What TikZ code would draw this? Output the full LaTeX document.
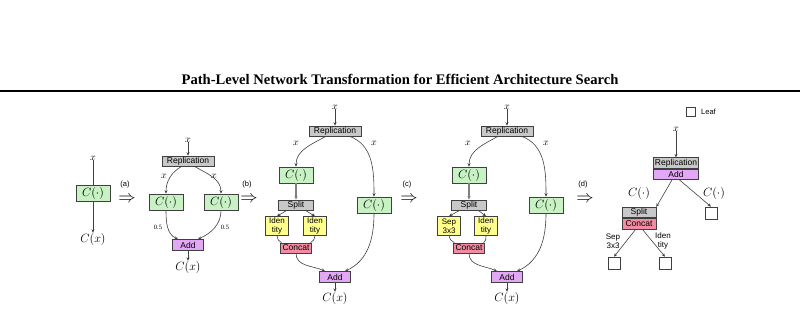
\documentclass[tikz,border=0pt]{standalone}
\usepackage{amsmath, amssymb}
\usepackage{fontspec}
\setmainfont{Liberation Serif}
\setsansfont{Liberation Sans}
\usepackage{tikz}
\usepackage{xcolor}
\usetikzlibrary{arrows.meta}

\definecolor{opgreen}{RGB}{200,242,196}
\definecolor{opgray}{RGB}{200,200,200}
\definecolor{opyellow}{RGB}{255,255,140}
\definecolor{oppink}{RGB}{242,140,162}
\definecolor{opviolet}{RGB}{226,168,246}

\tikzset{
  opbox/.style={draw=black!75, line width=0.6pt, inner sep=0pt, font=\sffamily\fontsize{8.5}{9}\selectfont},
  repbox/.style={opbox, fill=opgray, minimum width=52pt, minimum height=10pt},
  splitbox/.style={opbox, fill=opgray, minimum width=35pt, minimum height=10pt},
  cellbox/.style={opbox, fill=opgreen, minimum width=34pt, minimum height=16pt, font=\fontsize{12}{12}\selectfont},
  idbox/.style={opbox, fill=opyellow, minimum width=23pt, minimum height=19pt, align=center, font=\sffamily\fontsize{8}{8.5}\selectfont},
  catbox/.style={opbox, fill=oppink, minimum width=31pt, minimum height=10pt},
  addbox/.style={opbox, fill=opviolet, minimum width=31pt, minimum height=11pt},
  leafbox/.style={draw=black!75, line width=0.6pt, fill=white, minimum size=12pt, inner sep=0pt},
  lbl/.style={inner sep=0pt, font=\fontsize{10}{10}\selectfont},
  outlbl/.style={inner sep=0pt, font=\fontsize{11.5}{12}\selectfont},
  tag/.style={inner sep=0pt, font=\sffamily\fontsize{7.5}{8}\selectfont},
  txt/.style={inner sep=0pt, align=center, font=\sffamily\fontsize{8}{8.5}\selectfont},
  impl/.style={inner sep=0pt, text height=5pt, text depth=0pt, font=\fontsize{19}{19}\selectfont},
  edge/.style={draw=black!75, line width=0.6pt, -{Stealth[length=3.5pt,width=3pt]}},
  plain/.style={draw=black!75, line width=0.6pt},
  thickedge/.style={draw=black!50, line width=1.3pt, -{Stealth[length=3.5pt,width=3pt]}}
}

\begin{document}
\begin{tikzpicture}[x=1pt, y=-1pt]
  \useasboundingbox (0,0) rectangle (800,309);

  \node (title) at (400,79) {\fontsize{14.6}{15}\selectfont\bfseries Path-Level Network Transformation for Efficient Architecture Search};
  \draw[line width=1.6pt] (0,91) -- (800,91);

  \node[lbl] (x1) at (93,158) {$x$};
  \node[cellbox] (c1) at (93,193) {$C(\cdot)$};
  \node[outlbl] (cx1) at (93,239) {$C(x)$};
  \draw[plain] (x1) -- (c1);
  \draw[edge] (c1) -- (cx1);

  \node[tag] (ta) at (125,185) {(a)};
  \node[impl] (ia) at (127,200) {$\Rightarrow$};

  \node[lbl] (x2) at (188,140) {$x$};
  \node[repbox] (rep2) at (188,161) {Replication};
  \node[lbl] (x2a) at (164,176) {$x$};
  \node[lbl] (x2b) at (214,176) {$x$};
  \node[cellbox] (c2a) at (166,202) {$C(\cdot)$};
  \node[cellbox] (c2b) at (221,202) {$C(\cdot)$};
  \node[inner sep=0pt, font=\fontsize{6.5}{7}\selectfont] (w2a) at (158,227) {0.5};
  \node[inner sep=0pt, font=\fontsize{6.5}{7}\selectfont] (w2b) at (225,227) {0.5};
  \node[addbox] (add2) at (188,245) {Add};
  \node[outlbl] (cx2) at (188,267) {$C(x)$};
  \draw[edge] (x2) -- (rep2);
  \draw[edge] (rep2.-140) to[out=-150,in=90] (c2a.north);
  \draw[edge] (rep2.-40) to[out=-30,in=90] (c2b.north);
  \draw[edge] (c2a.south) to[out=-90,in=155] (add2.150);
  \draw[edge] (c2b.south) to[out=-90,in=25] (add2.30);
  \draw[edge] (add2) -- (cx2);

  \node[tag] (tb) at (247,185) {(b)};
  \node[impl] (ib) at (249,200) {$\Rightarrow$};

  \node[lbl] (x3) at (335,107) {$x$};
  \node[repbox] (rep3) at (335,131) {Replication};
  \node[lbl] (x3a) at (296,143) {$x$};
  \node[lbl] (x3b) at (374,143) {$x$};
  \node[cellbox] (c3a) at (296,175) {$C(\cdot)$};
  \node[cellbox] (c3b) at (374,205) {$C(\cdot)$};
  \node[splitbox] (sp3) at (296,205) {Split};
  \node[idbox] (id3a) at (277,226) {Iden\\tity};
  \node[idbox] (id3b) at (315,226) {Iden\\tity};
  \node[catbox] (cat3) at (296,248) {Concat};
  \node[addbox] (add3) at (335,277) {Add};
  \node[outlbl] (cx3) at (335,298) {$C(x)$};
  \draw[edge] (x3) -- (rep3);
  \draw[edge] (rep3.-150) to[out=-150,in=90] (c3a.north);
  \draw[edge] (rep3.-20) to[out=-20,in=90] (c3b.north);
  \draw[thickedge] (c3a) -- (sp3);
  \draw[edge] (sp3.-150) -- (id3a.north);
  \draw[edge] (sp3.-30) -- (id3b.north);
  \draw[plain] (id3a.south) to[out=-90,in=150] (cat3.160);
  \draw[plain] (id3b.south) to[out=-90,in=30] (cat3.20);
  \draw[edge] (cat3.south) to[out=-90,in=155] (add3.150);
  \draw[edge] (c3b.south) to[out=-90,in=25] (add3.30);
  \draw[edge] (add3) -- (cx3);

  \node[tag] (tc) at (407,185) {(c)};
  \node[impl] (ic) at (409,200) {$\Rightarrow$};

  \node[lbl] (x4) at (507,107) {$x$};
  \node[repbox] (rep4) at (507,131) {Replication};
  \node[lbl] (x4a) at (468,143) {$x$};
  \node[lbl] (x4b) at (546,143) {$x$};
  \node[cellbox] (c4a) at (469,175) {$C(\cdot)$};
  \node[cellbox] (c4b) at (546,205) {$C(\cdot)$};
  \node[splitbox] (sp4) at (469,205) {Split};
  \node[idbox] (id4a) at (449,226) {Sep\\3x3};
  \node[idbox] (id4b) at (486,226) {Iden\\tity};
  \node[catbox] (cat4) at (469,248) {Concat};
  \node[addbox] (add4) at (507,277) {Add};
  \node[outlbl] (cx4) at (507,298) {$C(x)$};
  \draw[edge] (x4) -- (rep4);
  \draw[edge] (rep4.-150) to[out=-150,in=90] (c4a.north);
  \draw[edge] (rep4.-20) to[out=-20,in=90] (c4b.north);
  \draw[thickedge] (c4a) -- (sp4);
  \draw[edge] (sp4.-150) -- (id4a.north);
  \draw[edge] (sp4.-30) -- (id4b.north);
  \draw[plain] (id4a.south) to[out=-90,in=150] (cat4.160);
  \draw[plain] (id4b.south) to[out=-90,in=30] (cat4.20);
  \draw[edge] (cat4.south) to[out=-90,in=155] (add4.150);
  \draw[edge] (c4b.south) to[out=-90,in=25] (add4.30);
  \draw[edge] (add4) -- (cx4);

  \node[tag] (td) at (583,185) {(d)};
  \node[impl] (id) at (585,200) {$\Rightarrow$};

  \node[leafbox, minimum size=9pt] (key) at (691,112) {};
  \node[tag, anchor=west] (keytxt) at (701,112) {Leaf};
  \node[lbl] (x5) at (676,129) {$x$};
  \node[repbox, minimum width=45pt, minimum height=10.5pt] (rep5) at (676,163) {Replication};
  \node[addbox, minimum width=45pt, minimum height=10.5pt, anchor=north] (add5) at (rep5.south) {Add};
  \node[outlbl] (c5a) at (639,193) {$C(\cdot)$};
  \node[outlbl] (c5b) at (714,193) {$C(\cdot)$};
  \node[splitbox, minimum width=34pt, minimum height=10.5pt] (sp5) at (639,212.5) {Split};
  \node[catbox, minimum width=34pt, minimum height=10.5pt, anchor=north] (cat5) at (sp5.south) {Concat};
  \node[leafbox] (lf5a) at (711,213) {};
  \node[txt] (t5a) at (613,241) {Sep\\3x3};
  \node[txt] (t5b) at (663,241) {Iden\\tity};
  \node[leafbox] (lf5b) at (614,263) {};
  \node[leafbox] (lf5c) at (665,263) {};
  \draw[edge] (x5) -- (rep5);
  \draw[edge] (add5.-125) -- (sp5.north east);
  \draw[edge] (add5.-60) -- (lf5a.north);
  \draw[edge] (cat5.-120) -- (lf5b.north);
  \draw[edge] (cat5.-60) -- (lf5c.north);
\end{tikzpicture}
\end{document}
